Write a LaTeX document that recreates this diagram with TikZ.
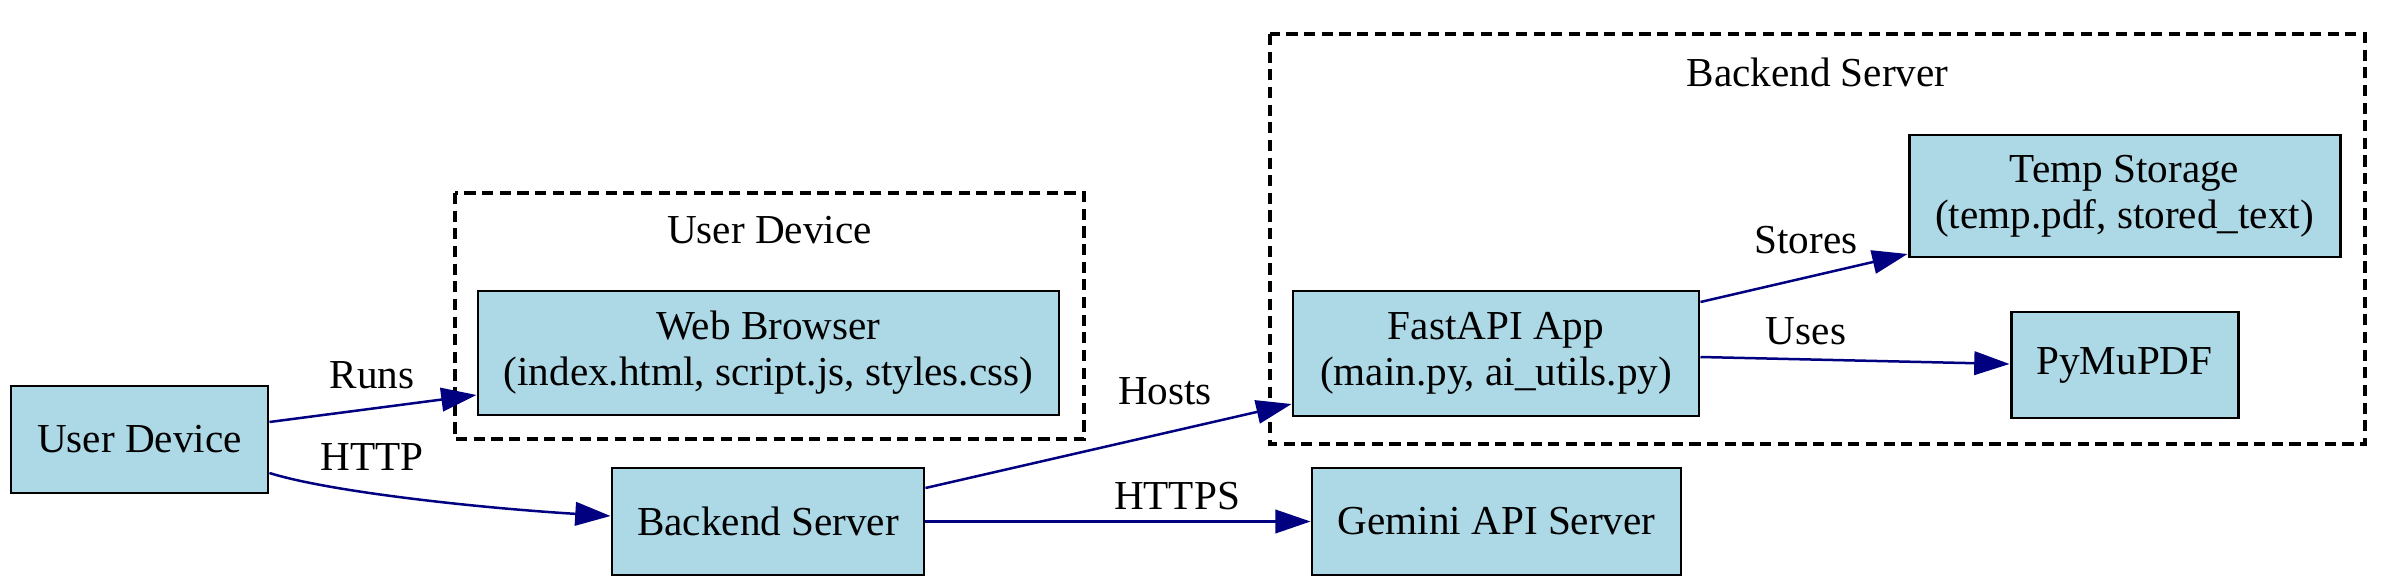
\documentclass[tikz,border=0pt]{standalone}
\usepackage{fontspec}
\setmainfont{Liberation Serif}
\usetikzlibrary{arrows.meta,calc}
\definecolor{boxfill}{HTML}{ADD8E6}
\definecolor{edgecol}{HTML}{000080}
\begin{document}
\begin{tikzpicture}[x=0.34pt,y=-0.34pt,
  every node/.style={font=\fontsize{14}{15.6}\selectfont},
  comp/.style={draw=black,line width=1pt,fill=boxfill,align=center,inner sep=0pt},
  cluster/.style={draw=black,line width=1.1pt,dash pattern=on 3.8pt off 2.2pt},
  conn/.style={draw=edgecol,line width=0.85pt,-{Triangle[length=12pt,width=8pt]},fill=edgecol},
  lbl/.style={inner sep=0pt}]
\useasboundingbox (0,0) rectangle (2400,588);
% clusters
\draw[cluster] (455,193) rectangle (1084,439);
\node[lbl] (cud) at (769.5,230) {User Device};
\draw[cluster] (1270,34) rectangle (2365,444);
\node[lbl] (cbs) at (1817.5,72) {Backend Server};
% nodes
\node[comp,minimum width=257*0.34pt,minimum height=107*0.34pt] (ud) at (139.5,439.5) {User Device};
\node[comp,minimum width=581*0.34pt,minimum height=124*0.34pt] (wb) at (768.5,353) {Web Browser\\(index.html, script.js, styles.css)};
\node[comp,minimum width=312*0.34pt,minimum height=107*0.34pt] (bs) at (768,521.5) {Backend Server};
\node[comp,minimum width=369*0.34pt,minimum height=107*0.34pt] (gem) at (1496.5,521.5) {Gemini API Server};
\node[comp,minimum width=406*0.34pt,minimum height=125*0.34pt] (fa) at (1496,353.5) {FastAPI App\\(main.py, ai\_utils.py)};
\node[comp,minimum width=431*0.34pt,minimum height=122*0.34pt] (ts) at (2124.5,196) {Temp Storage\\(temp.pdf, stored\_text)};
\node[comp,minimum width=227*0.34pt,minimum height=106*0.34pt] (pdf) at (2124.5,365) {PyMuPDF};
% edges
\path[conn] ($(ud.east)+(0,-17.5)$) -- ($(wb.west)+(0,42)$);
\node[lbl] (lruns) at (372,375) {Runs};
\path[conn,fill=none] ($(ud.east)+(0,33.5)$) .. controls (330,492) and (480,508) .. ($(bs.west)+(0,-5.5)$);
\node[lbl] (lhttp) at (372,457) {HTTP};
\path[conn] ($(bs.east)+(0,-33.5)$) -- ($(fa.west)+(0,50.5)$);
\node[lbl] (lhosts) at (1165,391) {Hosts};
\path[conn] (bs.east) -- (gem.west);
\node[lbl] (lhttps) at (1177,496) {HTTPS};
\path[conn] ($(fa.east)+(0,-51.5)$) -- ($(ts.west)+(0,58)$);
\node[lbl] (lstores) at (1806,240) {Stores};
\path[conn] ($(fa.east)+(0,3.5)$) -- ($(pdf.west)+(0,-1)$);
\node[lbl] (luses) at (1806,331) {Uses};
\end{tikzpicture}
\end{document}
